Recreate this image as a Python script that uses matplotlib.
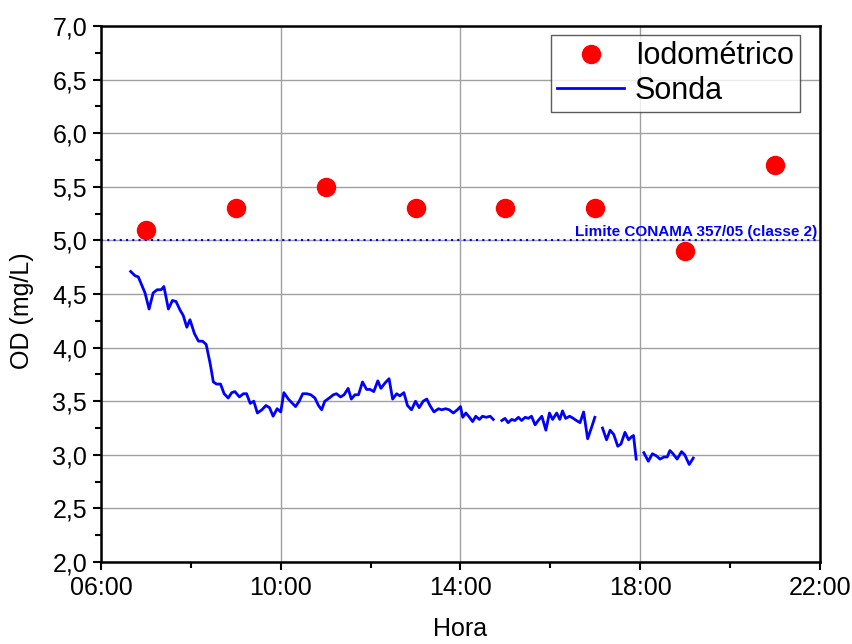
import numpy as np
import matplotlib
matplotlib.use("Agg")
import matplotlib.pyplot as plt
from matplotlib.ticker import FuncFormatter, MultipleLocator

plt.rcParams["font.family"] = ["Liberation Sans", "DejaVu Sans"]

# Iodometric samples (hour of day, mg/L)
iodo_h = [7, 9, 11, 13, 15, 17, 19, 21]
iodo_od = [5.1, 5.3, 5.5, 5.3, 5.3, 5.3, 4.9, 5.7]

# probe (sonda) readings, NaN marks gaps in the record
sonda_h = [
    6.66, 6.76, 6.83, 6.98, 7.07, 7.16, 7.25, 7.34, 7.40, 7.50, 7.59, 7.67,
    7.76, 7.83, 7.91, 7.98, 8.08, 8.17, 8.26, 8.34, 8.43, 8.50, 8.57, 8.66,
    8.74, 8.83, 8.91, 8.98, 9.08, 9.17, 9.24, 9.32, 9.40, 9.48, 9.58, 9.67,
    9.75, 9.83, 9.92, 10.00, 10.07, 10.17, 10.24, 10.33, 10.41, 10.49, 10.58,
    10.67, 10.76, 10.84, 10.91, 10.98, 11.08, 11.17, 11.24, 11.33, 11.41,
    11.50, 11.57, 11.65, 11.73, 11.82, 11.91, 11.99, 12.07, 12.16, 12.23,
    12.32, 12.41, 12.49, 12.58, 12.65, 12.74, 12.82, 12.91, 13.00, 13.08,
    13.17, 13.25, 13.32, 13.41, 13.51, 13.58, 13.67, 13.75, 13.84, 13.93,
    14.00, 14.05, 14.12, 14.20, 14.27, 14.34, 14.42, 14.49, 14.57, 14.66,
    14.73, 14.82,
    14.92, 14.99, 15.06, 15.14, 15.21, 15.29, 15.36, 15.44, 15.51, 15.58,
    15.66, 15.73, 15.81, 15.90, 15.98, 16.05, 16.14, 16.21, 16.27, 16.34,
    16.43, 16.51, 16.58, 16.66, 16.74, 16.83, 16.92, 16.99, 17.08,
    17.16, 17.25, 17.33, 17.41, 17.50, 17.57, 17.66, 17.74, 17.81, 17.85,
    17.91, 18.00,
    18.08, 18.18, 18.27, 18.36, 18.44, 18.53, 18.60, 18.66, 18.73, 18.82,
    18.92, 18.99, 19.09, 19.18,
]
sonda_od = [
    4.71, 4.67, 4.66, 4.51, 4.36, 4.51, 4.54, 4.54, 4.57, 4.36, 4.44, 4.43,
    4.35, 4.30, 4.19, 4.26, 4.13, 4.06, 4.06, 4.03, 3.85, 3.68, 3.66, 3.66,
    3.57, 3.53, 3.58, 3.59, 3.54, 3.57, 3.57, 3.48, 3.50, 3.39, 3.42, 3.46,
    3.44, 3.36, 3.43, 3.40, 3.58, 3.52, 3.49, 3.45, 3.50, 3.57, 3.57,
    3.56, 3.53, 3.46, 3.42, 3.50, 3.53, 3.56, 3.57, 3.54, 3.56,
    3.62, 3.52, 3.56, 3.56, 3.68, 3.61, 3.61, 3.59, 3.69, 3.62,
    3.67, 3.71, 3.52, 3.57, 3.55, 3.58, 3.46, 3.42, 3.50, 3.44,
    3.50, 3.52, 3.46, 3.40, 3.43, 3.42, 3.43, 3.42, 3.39, 3.42,
    3.45, 3.35, 3.39, 3.35, 3.31, 3.36, 3.33, 3.36, 3.35, 3.36,
    3.33, np.nan,
    3.32, 3.34, 3.30, 3.33, 3.32, 3.35, 3.32, 3.35, 3.34, 3.36,
    3.28, 3.32, 3.36, 3.23, 3.39, 3.33, 3.39, 3.33, 3.41, 3.34,
    3.36, 3.34, 3.32, 3.30, 3.40, 3.15, 3.26, 3.35, np.nan,
    3.25, 3.14, 3.23, 3.19, 3.08, 3.10, 3.21, 3.14, 3.17, 3.18,
    2.96, np.nan,
    3.02, 2.94, 3.01, 2.99, 2.96, 2.98, 2.98, 3.04, 3.01, 2.96,
    3.03, 3.00, 2.91, 2.97,
]

limite = 5.0
x_ticks = [6, 10, 14, 18, 22]

fig = plt.figure(figsize=(8.53, 6.44), dpi=100)
ax = fig.add_axes([0.1184, 0.1273, 0.8429, 0.8323])

ax.plot(iodo_h, iodo_od, "o", color="#ff0000", ms=13, mec="#ff0000",
        label="Iodométrico", zorder=4)
ax.plot(sonda_h, sonda_od, "-", color="#0000ff", lw=2.0, label="Sonda", zorder=3)
ax.axhline(limite, color="#0000ff", lw=1.5, ls=(0, (1, 2)), zorder=2)
ax.text(21.95, limite + 0.015, "Limite CONAMA 357/05 (classe 2)", color="#0000ff",
        fontsize=11, fontweight="bold", ha="right", va="bottom")

ax.set_xlim(6, 22)
ax.set_ylim(2.0, 7.0)
ax.set_xticks(x_ticks)
ax.set_xticklabels([f"{h:02d}:00" for h in x_ticks])
ax.xaxis.set_minor_locator(MultipleLocator(2))
ax.yaxis.set_major_locator(MultipleLocator(0.5))
ax.yaxis.set_minor_locator(MultipleLocator(0.25))
ax.yaxis.set_major_formatter(FuncFormatter(lambda v, p: f"{v:.1f}".replace(".", ",")))

ax.grid(True, which="major", color="#a0a0a0", lw=1)
ax.set_axisbelow(True)
for s in ax.spines.values():
    s.set_linewidth(1.8)
ax.tick_params(which="major", direction="out", length=6, width=1.5,
               labelsize=18, top=False, right=False, pad=4)
ax.tick_params(which="minor", direction="out", length=4, width=1.5,
               top=False, right=False)

ax.set_xlabel("Hora", fontsize=18, labelpad=12)
ax.set_ylabel("OD (mg/L)", fontsize=18, va="center")
ax.yaxis.set_label_coords(-0.11, 0.468)

leg = ax.legend(loc="upper right", bbox_to_anchor=(0.972, 0.983), fontsize=22,
                frameon=True, fancybox=False, edgecolor="#333333",
                borderpad=0.2, handlelength=2.2, handletextpad=0.35,
                labelspacing=0.15, borderaxespad=0)
leg.get_frame().set_linewidth(1.0)

fig.savefig("out.png", dpi=100)
